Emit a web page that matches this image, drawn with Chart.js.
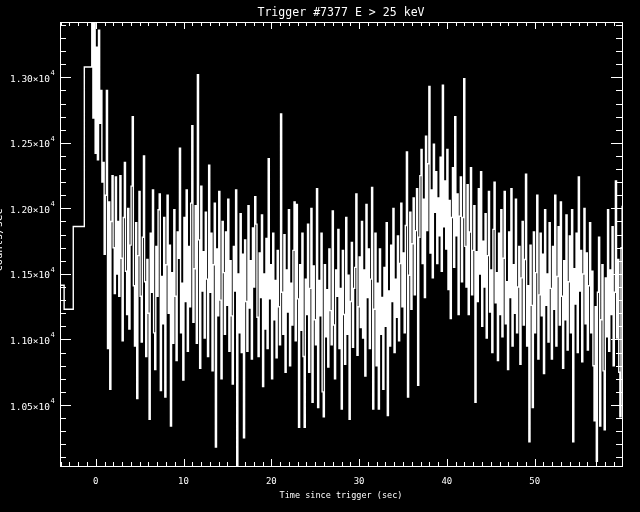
<!DOCTYPE html>
<html>
<head>
<meta charset="utf-8">
<script src="https://cdn.jsdelivr.net/npm/chart.js@4.4.1/dist/chart.umd.min.js"></script>
<style>
  html, body { margin: 0; padding: 0; background: #000; }
  canvas { display: block; }
</style>
</head>
<body>
<canvas id="lightCurve" width="640" height="512"></canvas>
<script>
// --- 1. DATA ---
const titleText = 'Trigger #7377 E > 25 keV';
const xTitle = 'Time since trigger (sec)';
const yTitle = 'Counts/sec';

// pre-trigger coarse bins: start time (sec) and rate
const coarseTimes = [-4.07, -3.60, -2.56, -1.30];
const coarseRates = [11414, 11230, 11862, 13079];

// fine bins
const fineStart = -0.45;
const fineWidth = 0.128;
const fineRates = [
  13600, 12690, 13480, 12420, 13230, 12370, 13360, 12650, 12900, 12200,
  12350, 11650, 12100, 12900, 10930, 12050, 10620, 11900, 12250, 11700,
  11350, 12240, 11500, 11900, 11330, 12250, 11620, 10990, 11930, 12350,
  11520, 11190, 12000, 11080, 11720, 12170, 12700, 11410, 10950, 11890,
  10550, 11640, 12130, 11330, 10980, 11780, 12400, 11440, 10870, 11610,
  11200, 10390, 11810, 11360, 12140, 11050, 10770, 11710, 11330, 11990,
  12110, 10610, 11480, 11120, 11930, 10560, 11570, 12100, 11200, 11720,
  10340, 11510, 10970, 11990, 11330, 10840, 11820, 11620, 12460, 11050,
  11430, 10690, 11930, 11290, 12140, 10910, 11710, 11250, 12040, 12630,
  11130, 11540, 12020, 10970, 13020, 11760, 10780, 12170, 11370, 11670,
  11010, 11970, 11460, 10870, 12330, 11360, 11810, 10760, 11570, 12040,
  10180, 11690, 11180, 12130, 11300, 10700, 11900, 11510, 11040, 11820,
  11260, 12070, 10910, 11600, 11180, 10660, 11710, 11370, 12140, 9950,
  11500, 11050, 11960, 10900, 11650, 10250, 11760, 11290, 10910, 12020,
  11240, 11600, 10850, 11850, 11400, 12090, 11880, 11170, 10870, 11660,
  11320, 11950, 10640, 11500, 11080, 11770, 10930, 12380, 11310, 11570,
  10700, 11810, 11150, 11450, 10860, 11680, 11250, 10960, 12720, 11360,
  11040, 11800, 10750, 11530, 11210, 11990, 10800, 11430, 11110, 11680,
  12050, 10990, 12030, 11310, 10330, 11570, 11070, 11810, 10870, 10330,
  11460, 11190, 11880, 10750, 11390, 12000, 10520, 11560, 11150, 10960,
  12150, 10480, 11450, 11180, 11810, 10600, 10410, 11570, 11020, 11380,
  10790, 11690, 11220, 10960, 11980, 11110, 10700, 11530, 11330, 11840,
  10930, 11390, 10470, 11680, 11190, 10810, 11930, 11040, 11490, 10390,
  11290, 11740, 10940, 11390, 11550, 12110, 10880, 11250, 11630, 11090,
  11900, 11010, 11530, 10720, 12030, 11320, 11690, 10930, 11460, 12160,
  10470, 11230, 11810, 10800, 11430, 10470, 11690, 11040, 11320, 10620,
  11550, 11100, 11890, 10420, 11370, 10950, 11720, 11290, 12000, 10900,
  11460, 11170, 11790, 10990, 11580, 12040, 11250, 11660, 11050, 11870,
  12430, 10560, 11490, 11970, 11230, 11730, 12080, 11340, 11830, 12150,
  10650, 11780, 12250, 12450, 11580, 12070, 11320, 12550, 11830, 12340,
  12930, 11660, 12140, 11470, 12490, 11970, 12280, 11580, 12080, 11790,
  12390, 11520, 12940, 11860, 12210, 11690, 12450, 11380, 12060, 11160,
  11930, 12310, 11550, 12700, 11790, 12110, 11190, 11940, 12240, 11440,
  11930, 12990, 11710, 11400, 12180, 11190, 11820, 12310, 11340, 11680,
  12020, 10520, 11670, 11290, 12150, 11500, 12280, 11100, 11750, 11400,
  11960, 11010, 11640, 12130, 11210, 11530, 10900, 11840, 12200, 11280,
  11510, 10840, 11810, 11190, 11990, 11020, 11620, 12130, 11120, 11440,
  10770, 11820, 11320, 12150, 10950, 11570, 11200, 12070, 11050, 11400,
  11710, 10810, 11470, 11900, 11110, 11610, 12260, 10950, 11410, 10220,
  11720, 11260, 10480, 11820, 11050, 11510, 12100, 10850, 11340, 11810,
  11180, 11650, 10740, 11990, 11260, 11500, 10980, 11890, 11390, 10850,
  11710, 11230, 12100, 10950, 11480, 11860, 11110, 12050, 11330, 10780,
  11600, 11150, 11950, 10920, 11440, 11790, 11050, 11990, 10220, 11540,
  11270, 11810, 10900, 12240, 11370, 11680, 10830, 11500, 12000, 11120,
  11660, 10920, 11410, 11890, 11050, 11520, 10800, 10380, 11250, 10070,
  11360, 11780, 10340, 11150, 11570, 10760, 10310, 11470, 11020, 11990,
  10910, 11530, 11190, 11860, 10800, 11360, 12210, 11010, 11610, 10750,
  10410, 11700, 12020
];

const xRange = [-4.07, 59.95];
const yRange = [10027, 13422];
const xMajorTicks = [0, 10, 20, 30, 40, 50];
const xTickLabels = ['0', '10', '20', '30', '40', '50'];
const yMajorTicks = [10500, 11000, 11500, 12000, 12500, 13000];
const yTickLabels = ['1.05\u00d710', '1.10\u00d710', '1.15\u00d710', '1.20\u00d710', '1.25\u00d710', '1.30\u00d710'];
const yTickExp = '4';
const xMinorStep = 1;
const yMinorStep = 100;

// --- 2. BUILD POINTS (bin start + value, stepped) ---
const points = [];
coarseTimes.forEach((t, i) => points.push({ x: t, y: coarseRates[i] }));
fineRates.forEach((r, i) => points.push({ x: fineStart + i * fineWidth, y: r }));
points.push({ x: fineStart + fineRates.length * fineWidth, y: fineRates[fineRates.length - 1] });

// --- 3. IDL STYLE FRAME, TICKS AND TEXT ---
function drawText(ctx, text, x, y, size, align, sx) {
    ctx.save();
    ctx.translate(x, y);
    ctx.scale(sx || 1, 1);
    ctx.font = size + 'px "DejaVu Sans Mono"';
    ctx.textAlign = align;
    ctx.textBaseline = 'alphabetic';
    ctx.fillText(text, 0, 0);
    ctx.restore();
}

const idlAxes = {
    id: 'idlAxes',
    beforeDraw(chart) {
        const ctx = chart.ctx;
        ctx.save();
        ctx.fillStyle = '#000';
        ctx.fillRect(0, 0, chart.width, chart.height);
        ctx.restore();
    },
    afterDraw(chart) {
        const ctx = chart.ctx;
        const a = chart.chartArea;
        const xs = chart.scales.x;
        const ys = chart.scales.y;

        ctx.save();
        ctx.strokeStyle = '#fff';
        ctx.fillStyle = '#fff';
        ctx.lineWidth = 1;
        ctx.strokeRect(a.left + 0.5, a.top + 0.5, a.right - a.left, a.bottom - a.top - 1);

        ctx.beginPath();
        // x ticks, bottom and top, pointing inward
        for (let v = Math.ceil(xRange[0]); v <= xRange[1]; v += xMinorStep) {
            const px = Math.round(xs.getPixelForValue(v)) + 0.5;
            const len = xMajorTicks.includes(v) ? 7 : 4;
            ctx.moveTo(px, a.bottom - 1);
            ctx.lineTo(px, a.bottom - 1 - len);
            ctx.moveTo(px, a.top);
            ctx.lineTo(px, a.top + len);
        }
        // y ticks, left and right
        for (let v = Math.ceil(yRange[0] / yMinorStep) * yMinorStep; v <= yRange[1]; v += yMinorStep) {
            const py = Math.round(ys.getPixelForValue(v)) + 0.5;
            const len = yMajorTicks.includes(v) ? 11 : 6;
            ctx.moveTo(a.left, py);
            ctx.lineTo(a.left + len, py);
            ctx.moveTo(a.right, py);
            ctx.lineTo(a.right - len, py);
        }
        ctx.stroke();

        // tick labels
        xMajorTicks.forEach((v, i) => {
            drawText(ctx, xTickLabels[i], xs.getPixelForValue(v), a.bottom + 17, 9, 'center');
        });
        yMajorTicks.forEach((v, i) => {
            const py = ys.getPixelForValue(v);
            drawText(ctx, yTickLabels[i], a.left - 10, py + 4.5, 9.5, 'right');
            drawText(ctx, yTickExp, a.left - 9.5, py - 2.3, 7, 'left');
        });

        // titles
        const cx = (a.left + a.right) / 2;
        drawText(ctx, titleText, cx, 16, 13, 'center', 0.89);
        drawText(ctx, xTitle, cx, a.bottom + 30.5, 8.5, 'center');

        // y title sits mostly off the left edge, as in the original plot
        ctx.save();
        ctx.translate(1.5, 240);
        ctx.rotate(-Math.PI / 2);
        ctx.font = '10.5px "DejaVu Sans Mono"';
        ctx.textAlign = 'center';
        ctx.fillText(yTitle, 0, 0);
        ctx.restore();

        ctx.restore();
    }
};

// --- 4. CHART ---
const ctx = document.getElementById('lightCurve').getContext('2d');
new Chart(ctx, {
    type: 'line',
    data: {
        datasets: [{
            data: points,
            borderColor: '#ffffff',
            borderWidth: 1.4,
            pointRadius: 0,
            stepped: true,
            fill: false
        }]
    },
    options: {
        responsive: false,
        animation: false,
        devicePixelRatio: 1,
        layout: { padding: { left: 60, right: 18, top: 22, bottom: 45 } },
        plugins: {
            legend: { display: false },
            tooltip: { enabled: false },
            title: { display: false }
        },
        scales: {
            x: { type: 'linear', display: false, min: xRange[0], max: xRange[1] },
            y: { type: 'linear', display: false, min: yRange[0], max: yRange[1] }
        }
    },
    plugins: [idlAxes]
});
</script>
</body>
</html>
